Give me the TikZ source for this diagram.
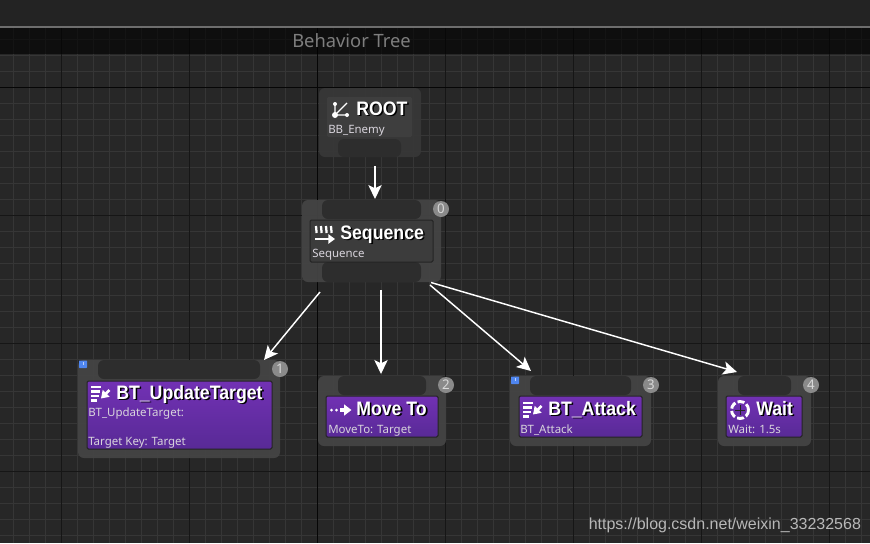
\documentclass[tikz,border=0pt]{standalone}
\usepackage{fontspec}
\setmainfont{Noto Sans}
\newfontfamily\wmfont{Liberation Sans}
\newfontfamily\ttlfont[FakeStretch=0.91]{Liberation Sans Bold}
\usetikzlibrary{arrows.meta}
\definecolor{bg}{HTML}{272727}
\definecolor{minorgrid}{HTML}{363636}
\definecolor{majorgrid}{HTML}{161616}
\definecolor{axisgrid}{HTML}{060606}
\definecolor{topbar}{HTML}{232323}
\definecolor{rule}{HTML}{6E6E6E}
\definecolor{titlegrey}{HTML}{7E7E7E}
\definecolor{outerc}{HTML}{444444}
\definecolor{slotc}{HTML}{2D2D2D}
\definecolor{subtxt}{HTML}{D8D4DC}
\definecolor{puptop}{HTML}{7231B4}
\definecolor{pupbot}{HTML}{582A96}
\definecolor{badgec}{HTML}{8A8A8A}
\definecolor{seqfill}{HTML}{3C3C3C}
\definecolor{edgedark}{HTML}{242424}
\definecolor{flagblue}{HTML}{4F86F0}
\definecolor{flaglight}{HTML}{B8D0FA}
\definecolor{rootfill}{HTML}{383838}
\definecolor{rootlight}{HTML}{3F3F3F}
\tikzset{
  x=0.75pt,y=-0.75pt,
  boxbase/.style={inner sep=0pt,outer sep=0pt,rounded corners=4.5pt},
  rootouter/.style={boxbase,fill=rootfill,fill opacity=.9},
  rootinner/.style={boxbase,rounded corners=1pt,fill=rootlight,fill opacity=.9},
  outerbox/.style={boxbase,fill=outerc,fill opacity=.95},
  slotbox/.style={boxbase,fill=slotc},
  seqinner/.style={boxbase,rounded corners=1pt,fill=seqfill,draw=edgedark,line width=.75pt},
  taskinner/.style={boxbase,rounded corners=1pt,top color=puptop,bottom color=pupbot,draw=edgedark,line width=.75pt},
  badge/.style={circle,fill=badgec,inner sep=0pt,minimum size=12pt,text=white!85!black,font=\fontsize{10pt}{10pt}\selectfont},
  flow/.style={draw=white,line width=1.1pt,-{Stealth[length=10.5pt,width=10pt,inset=2.5pt]}},
  titletxt/.style={anchor=base west,inner sep=0pt,text=white,font=\ttlfont\fontsize{14.6pt}{15pt}\selectfont},
  titleshadow/.style={anchor=base west,inner sep=0pt,text=black,font=\ttlfont\fontsize{14.6pt}{15pt}\selectfont},
  subtxtst/.style={anchor=base west,inner sep=0pt,text=subtxt,font=\fontsize{8.6pt}{10pt}\selectfont},
  iconline/.style={draw=white,line width=1.2pt},
  blueflag/.style={boxbase,rounded corners=.5pt,fill=flagblue},
}
\newcommand{\bx}[6]{\node[#2,minimum width={(#5-#3)*0.75pt},minimum height={(#6-#4)*0.75pt}] (#1) at ({(#3+#5)/2},{(#4+#6)/2}) {};}
\newcommand{\ttl}[4]{\node[titleshadow] (#1s) at (#2+1.6,#3+1.6) {#4};\node[titletxt] (#1) at (#2,#3) {#4};}
\begin{document}
\begin{tikzpicture}
\useasboundingbox (0,0) rectangle (870,543);
\fill[bg] (0,0) rectangle (870,543);
% grid
\foreach \gx in {13,29,...,870} \draw[minorgrid,line width=.6pt] (\gx,27) -- (\gx,543);
\foreach \gy in {39,55,...,543} \draw[minorgrid,line width=.6pt] (0,\gy) -- (870,\gy);
\foreach \gx in {61,189,445,573,701,829} \draw[majorgrid,line width=.75pt] (\gx,27) -- (\gx,543);
\foreach \gy in {215,343,471} \draw[majorgrid,line width=.75pt] (0,\gy) -- (870,\gy);
\draw[axisgrid,line width=.75pt] (317,27) -- (317,543) (0,87) -- (870,87);
% header
\fill[black,opacity=.62] (0,27) rectangle (870,54);
\fill[topbar] (0,0) rectangle (870,26);
\fill[rule] (0,26) rectangle (870,27.6);
\node[anchor=base west,inner sep=0pt,text=titlegrey,font=\fontsize{13.75pt}{14pt}\selectfont] (header) at (292,47) {Behavior Tree};
% ROOT
\bx{root}{rootouter}{319}{88}{421}{157}
\bx{rootin}{rootinner}{327}{97}{412}{137}
\bx{rootslot}{slotbox}{338}{139}{401}{157}
\draw[iconline,line width=.9pt] (335,115) -- (347,103) (335,115) -- (347,115) (335,115) -- (335,104);
\fill[white] (335,115) circle[radius=3] (347,115) circle[radius=2] (335,104) circle[radius=2];
\ttl{roott}{356}{115}{ROOT}
\node[subtxtst] (roots) at (328,133) {BB\_Enemy};
% Sequence
\bx{seq}{outerbox}{302}{200}{441}{282}
\bx{seqtop}{slotbox}{322}{200}{421}{219}
\bx{seqbot}{slotbox}{322}{262}{421}{282}
\bx{seqin}{seqinner}{310}{220}{433}{262}
\foreach \ix in {316,321,326,331} \draw[iconline,line width=1.7pt] (\ix,226) -- (\ix+.6,233);
\draw[iconline,line width=2.2pt,-{Stealth[length=5pt,width=7pt,inset=0pt]}] (315,239) -- (335,239);
\ttl{seqt}{340}{239}{Sequence}
\node[subtxtst] (seqs) at (312,257) {Sequence};
\node[badge] (b0) at (441,209) {0};
% BT_UpdateTarget
\bx{upd}{outerbox}{78}{360}{280}{458}
\bx{updslot}{slotbox}{98}{360}{260}{379}
\bx{updin}{taskinner}{87}{381}{272}{449}
\bx{updflag}{blueflag}{79}{360.5}{87}{368}
\fill[flaglight] (82.5,361.5) rectangle (84,365);
\foreach \iy/\iw in {387/101,391.5/100,396/98.5,400.5/97}
  \draw[iconline,line width=1.6pt] (91,\iy) -- (\iw,\iy);
\draw[iconline,line width=2pt,-{Stealth[length=5.5pt,width=7pt,inset=0pt]}] (109.5,390) -- (101,398.5);
\ttl{updt}{116}{399}{BT\_UpdateTarget}
\node[subtxtst] (upds) at (88,416) {BT\_UpdateTarget:};
\node[subtxtst] (updk) at (88,445) {Target Key: Target};
\node[badge] (b1) at (280,369) {1};
% Move To
\bx{mov}{outerbox}{318}{376}{446}{446}
\bx{movslot}{slotbox}{338}{376}{426}{395}
\bx{movin}{taskinner}{326}{396}{438}{437}
\fill[white] (331.5,410) circle[radius=1.5] (336.5,410) circle[radius=1.5];
\draw[iconline,line width=2.4pt,-{Stealth[length=5.5pt,width=8pt,inset=0pt]}] (340,410) -- (351.5,410);
\ttl{movt}{356}{415}{Move To}
\node[subtxtst] (movs) at (328,433) {MoveTo: Target};
\node[badge] (b2) at (446,385) {2};
% BT_Attack
\bx{atk}{outerbox}{510}{376}{651}{446}
\bx{atkslot}{slotbox}{530}{376}{631}{395}
\bx{atkin}{taskinner}{519}{396}{642}{437}
\bx{atkflag}{blueflag}{511}{376.5}{519}{384}
\fill[flaglight] (514.5,377.5) rectangle (516,381);
\foreach \iy/\iw in {403/533,407.5/532,412/530.5,416.5/529}
  \draw[iconline,line width=1.6pt] (523,\iy) -- (\iw,\iy);
\draw[iconline,line width=2pt,-{Stealth[length=5.5pt,width=7pt,inset=0pt]}] (541.5,406) -- (533,414.5);
\ttl{atkt}{548}{415}{BT\_Attack}
\node[subtxtst] (atks) at (520,433) {BT\_Attack};
\node[badge] (b3) at (651,385) {3};
% Wait
\bx{wai}{outerbox}{718}{376}{811}{446}
\bx{waislot}{slotbox}{738}{376}{791}{395}
\bx{waiin}{taskinner}{726}{396}{802}{437}
\draw[white,line width=2.2pt,dash pattern=on 5.2pt off 1.8pt] (740,410) circle[radius=8.5];
\draw[edgedark,line width=.4pt] (735,410) -- (745,410) (740,405) -- (740,415);
\ttl{wait}{756}{415}{Wait}
\node[subtxtst] (wais) at (728,433) {Wait: 1.5s};
\node[badge] (b4) at (811,385) {4};
% connectors
\draw[flow] ([shift={(5,9)}]root.south) -- ([shift={(3.5,-1)}]seq.north);
\draw[flow] ([shift={(18,10)}]seq.south west) -- ([shift={(186,0)}]upd.north west);
\draw[flow] ([shift={(9.5,8)}]seq.south) -- ([shift={(-1,-2)}]mov.north);
\draw[flow] ([shift={(-11,3)}]seq.south east) -- ([shift={(21,-5)}]atk.north west);
\draw[flow] ([shift={(-10,0.5)}]seq.south east) -- ([shift={(19,-4)}]wai.north west);
% watermark
\node[anchor=base west,inner sep=0pt,text=white!72!black,font=\wmfont\fontsize{12pt}{14pt}\selectfont] (wm) at (588.5,529) {https://blog.csdn.net/weixin\_33232568};
\end{tikzpicture}
\end{document}
